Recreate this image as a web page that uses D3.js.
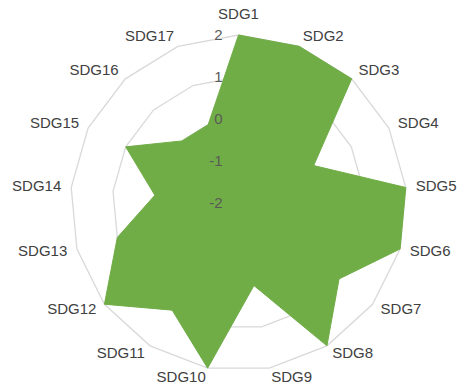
<!DOCTYPE html>
<html>
<head>
<meta charset="utf-8">
<script src="https://cdn.jsdelivr.net/npm/d3@7/dist/d3.min.js"></script>
<style>
  html, body { margin: 0; padding: 0; background: #fff; }
  svg { display: block; }
</style>
</head>
<body>
<svg id="chart" width="459" height="389"></svg>
<script>
// SDG scores, one per goal, on a -2..2 scale
const goals = ["SDG1","SDG2","SDG3","SDG4","SDG5","SDG6","SDG7","SDG8","SDG9",
               "SDG10","SDG11","SDG12","SDG13","SDG14","SDG15","SDG16","SDG17"];
const scores = [2, 2, 2, 0, 2, 2, 1, 2, 0, 2, 1, 2, 1, 0, 1, 0, 0];
const ticks = [-2, -1, 0, 1, 2];

const width = 459, height = 389;
const cx = 238.5, cy = 203, outerR = 168;

const svg = d3.select("#chart");
const g = svg.append("g").attr("transform", `translate(${cx},${cy})`);

const r = d3.scaleLinear().domain([-2, 2]).range([0, outerR]);
const angle = d3.scalePoint().domain(goals).range([0, 2 * Math.PI]).padding(0);
// scalePoint with range end 2π would put the last point on the first; use band-style step
const step = 2 * Math.PI / goals.length;
const theta = i => i * step;

const pt = (i, rad) => [Math.sin(theta(i)) * rad, -Math.cos(theta(i)) * rad];

// concentric grid polygons
const ringLine = d3.line().curve(d3.curveLinearClosed);
g.selectAll("path.ring")
  .data(ticks.filter(t => r(t) > 0))
  .join("path")
  .attr("class", "ring")
  .attr("d", t => ringLine(goals.map((_, i) => pt(i, r(t)))))
  .attr("fill", "none")
  .attr("stroke", "#d9d9d9")
  .attr("stroke-width", 1.3);

// filled score area
g.append("path")
  .attr("d", ringLine(scores.map((v, i) => pt(i, r(v)))))
  .attr("fill", "#70ad47")
  .attr("stroke", "#70ad47")
  .attr("stroke-width", 1);

// tick labels along the first axis
g.selectAll("text.tick")
  .data(ticks)
  .join("text")
  .attr("class", "tick")
  .attr("x", -16)
  .attr("y", t => -r(t) + 1)
  .attr("text-anchor", "end")
  .attr("dominant-baseline", "middle")
  .attr("font-family", "'Liberation Sans', Arial, sans-serif")
  .attr("font-size", 15)
  .attr("fill", "#595959")
  .text(t => t);

// goal labels around the outside
const labelR = outerR + 10;
g.selectAll("text.goal")
  .data(goals)
  .join("text")
  .attr("class", "goal")
  .each(function (d, i) {
    const s = Math.sin(theta(i));
    const [x, y] = pt(i, labelR);
    const el = d3.select(this);
    if (Math.abs(s) < 0.05) {
      el.attr("x", x).attr("y", y - 6)
        .attr("text-anchor", "middle")
        .attr("dominant-baseline", "auto");
    } else {
      el.attr("x", x).attr("y", y)
        .attr("text-anchor", s > 0 ? "start" : "end")
        .attr("dominant-baseline", "middle");
    }
  })
  .attr("font-family", "'Liberation Sans', Arial, sans-serif")
  .attr("font-size", 15)
  .attr("fill", "#404040")
  .text(d => d);
</script>
</body>
</html>
